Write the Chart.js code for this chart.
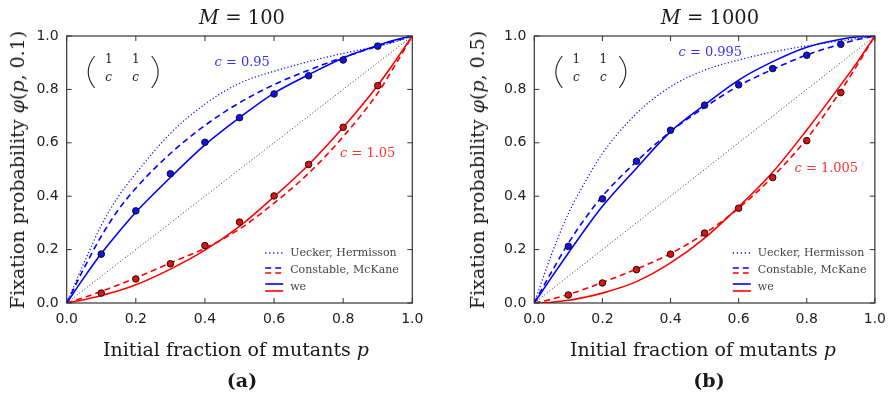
<!DOCTYPE html>
<html>
<head>
<meta charset="utf-8">
<script src="https://cdn.jsdelivr.net/npm/chart.js@4.4.1/dist/chart.umd.min.js"></script>
<style>
  body { margin: 0; background: #fff; }
  #wrap { position: relative; width: 894px; height: 395px; overflow: hidden; }
  canvas { position: absolute; top: 0; }
  .lbl { position: absolute; font-family: "DejaVu Serif", serif; color: #1a1a1a; white-space: nowrap;
         transform: translate(-50%, -50%); }
  .title { font-size: 19.5px; }
  .xt { font-size: 19px; }
  .yt { font-size: 19px; transform: translate(-50%, -50%) rotate(-90deg); }
  .panel { font-size: 19px; font-weight: bold; }
</style>
</head>
<body>
<div id="wrap">
  <canvas id="chartA" width="447" height="395" style="left:0"></canvas>
  <canvas id="chartB" width="447" height="395" style="left:447px"></canvas>

  <div class="lbl title" style="left:242px; top:17px"><i>M</i> = 100</div>
  <div class="lbl title" style="left:710px; top:17px"><i>M</i> = 1000</div>
  <div class="lbl yt" style="left:17px; top:170px">Fixation probability <i>φ</i>(<i>p</i>, 0.1)</div>
  <div class="lbl yt" style="left:477px; top:170px">Fixation probability <i>φ</i>(<i>p</i>, 0.5)</div>
  <div class="lbl xt" style="left:236px; top:349px">Initial fraction of mutants <i>p</i></div>
  <div class="lbl xt" style="left:703px; top:349px">Initial fraction of mutants <i>p</i></div>
  <div class="lbl panel" style="left:242px; top:380px">(a)</div>
  <div class="lbl panel" style="left:709px; top:380px">(b)</div>
</div>

<script>
// x positions of the curve samples and of the simulation points
const pGrid = [0, 0.05, 0.1, 0.15, 0.2, 0.3, 0.4, 0.5, 0.6, 0.7, 0.8, 0.9, 0.95, 1];
const pSim = [0.1, 0.2, 0.3, 0.4, 0.5, 0.6, 0.7, 0.8, 0.9];
const diagX = [0, 1];
const diagY = [0, 1];
const tickValues = [0, 0.2, 0.4, 0.6, 0.8, 1];
const tickLabels = ['0.0', '0.2', '0.4', '0.6', '0.8', '1.0'];
const legendNames = ['Uecker, Hermisson', 'Constable, McKane', 'we'];

// panel (a), M = 100
const aBlueDot   = [0, 0.15, 0.29, 0.40, 0.485, 0.635, 0.745, 0.823, 0.868, 0.904, 0.935, 0.962, 0.978, 1];
const aBlueDash  = [0, 0.13, 0.25, 0.35, 0.43, 0.56, 0.665, 0.75, 0.818, 0.872, 0.92, 0.962, 0.982, 1];
const aBlueSolid = [0, 0.095, 0.185, 0.265, 0.34, 0.47, 0.592, 0.694, 0.786, 0.855, 0.918, 0.965, 0.985, 1];
const aRedDash   = [0, 0.02, 0.044, 0.068, 0.094, 0.15, 0.205, 0.277, 0.374, 0.486, 0.623, 0.786, 0.89, 1];
const aRedSolid  = [0, 0.012, 0.028, 0.046, 0.068, 0.127, 0.198, 0.287, 0.398, 0.518, 0.658, 0.815, 0.905, 1];
const aBluePts   = [0.183, 0.345, 0.484, 0.602, 0.694, 0.783, 0.851, 0.910, 0.962];
const aRedPts    = [0.037, 0.090, 0.147, 0.215, 0.303, 0.401, 0.519, 0.658, 0.814];

// panel (b), M = 1000
const bBlueDot   = [0, 0.18, 0.335, 0.455, 0.56, 0.71, 0.81, 0.872, 0.91, 0.94, 0.963, 0.982, 0.991, 1];
const bBlueDash  = [0, 0.115, 0.224, 0.318, 0.40, 0.53, 0.642, 0.733, 0.813, 0.875, 0.929, 0.97, 0.987, 1];
const bBlueSolid = [0, 0.095, 0.187, 0.277, 0.362, 0.505, 0.642, 0.742, 0.835, 0.904, 0.958, 0.988, 0.997, 1];
const bRedDash   = [0, 0.014, 0.032, 0.053, 0.077, 0.127, 0.185, 0.26, 0.355, 0.473, 0.615, 0.795, 0.895, 1];
const bRedSolid  = [0, 0.003, 0.01, 0.022, 0.037, 0.08, 0.15, 0.243, 0.36, 0.49, 0.648, 0.817, 0.905, 1];
const bBluePts   = [0.212, 0.39, 0.531, 0.647, 0.741, 0.817, 0.878, 0.928, 0.969];
const bRedPts    = [0.03, 0.075, 0.125, 0.183, 0.262, 0.355, 0.47, 0.608, 0.788];

const BLUE = '#0000ff';
const RED = '#ff0000';
const SERIF = '"DejaVu Serif", serif';

function pairs(xs, ys) {
    return xs.map((x, i) => ({ x: x, y: ys[i] }));
}

function curve(ys, color, dash, width) {
    return {
        data: pairs(pGrid, ys),
        borderColor: color,
        borderDash: dash,
        borderWidth: width,
        pointRadius: 0,
        fill: false,
        cubicInterpolationMode: 'monotone'
    };
}

function dots(ys, color) {
    return {
        data: pairs(pSim, ys),
        showLine: false,
        pointRadius: 3.3,
        pointBackgroundColor: color,
        pointBorderColor: '#111',
        pointBorderWidth: 1
    };
}

// text like "c = 0.95" with an italic c, centred on (x, y)
function richText(ctx, parts, x, y, size, color) {
    ctx.fillStyle = color;
    ctx.textBaseline = 'middle';
    ctx.textAlign = 'left';
    let total = 0;
    parts.forEach(p => {
        ctx.font = (p.it ? 'italic ' : '') + size + 'px ' + SERIF;
        total += ctx.measureText(p.t).width;
    });
    let cx = x - total / 2;
    parts.forEach(p => {
        ctx.font = (p.it ? 'italic ' : '') + size + 'px ' + SERIF;
        ctx.fillText(p.t, cx, y);
        cx += ctx.measureText(p.t).width;
    });
}

function legendLine(ctx, x, y, color, dash, width) {
    ctx.strokeStyle = color;
    ctx.setLineDash(dash);
    ctx.lineWidth = width;
    ctx.beginPath();
    ctx.moveTo(x, y);
    ctx.lineTo(x + 18, y);
    ctx.stroke();
}

// frame with inward ticks on all four sides, matrix, c labels and legend
const framePlugin = {
    id: 'frame',
    afterDatasetsDraw(chart, args, opts) {
        const { ctx, chartArea: a, scales: { x, y } } = chart;
        ctx.save();
        ctx.setLineDash([]);
        ctx.strokeStyle = '#333';
        ctx.lineWidth = 1.2;
        ctx.strokeRect(a.left, a.top, a.right - a.left, a.bottom - a.top);
        ctx.lineWidth = 1;
        ctx.beginPath();
        tickValues.forEach(v => {
            const px = x.getPixelForValue(v);
            const py = y.getPixelForValue(v);
            ctx.moveTo(px, a.bottom); ctx.lineTo(px, a.bottom - 5);
            ctx.moveTo(px, a.top); ctx.lineTo(px, a.top + 5);
            ctx.moveTo(a.left, py); ctx.lineTo(a.left + 5, py);
            ctx.moveTo(a.right, py); ctx.lineTo(a.right - 5, py);
        });
        ctx.stroke();

        // payoff matrix
        const mx = a.left, my = a.top;
        ctx.strokeStyle = '#222';
        ctx.lineWidth = 1.1;
        ctx.beginPath();
        ctx.moveTo(mx + 28, my + 20);
        ctx.quadraticCurveTo(mx + 15, my + 36, mx + 28, my + 52);
        ctx.moveTo(mx + 85, my + 20);
        ctx.quadraticCurveTo(mx + 98, my + 36, mx + 85, my + 52);
        ctx.stroke();
        richText(ctx, [{ t: '1' }], mx + 42, my + 24, 12, '#222');
        richText(ctx, [{ t: '1' }], mx + 69, my + 24, 12, '#222');
        richText(ctx, [{ t: 'c', it: true }], mx + 42, my + 42, 12, '#222');
        richText(ctx, [{ t: 'c', it: true }], mx + 69, my + 42, 12, '#222');

        // c labels
        richText(ctx, [{ t: 'c', it: true }, { t: ' = ' + opts.cBlue }],
                 a.left + opts.blueAt[0], a.top + opts.blueAt[1], 13, '#3333ff');
        richText(ctx, [{ t: 'c', it: true }, { t: ' = ' + opts.cRed }],
                 a.left + opts.redAt[0], a.top + opts.redAt[1], 13, '#ff3333');

        // legend
        const lx = a.left + 198.5;
        const ly = a.top + 217;
        legendLine(ctx, lx, ly, BLUE, [1.2, 2.8], 1.4);
        legendLine(ctx, lx, ly + 15, BLUE, [6, 4], 1.6);
        legendLine(ctx, lx, ly + 20, RED, [6, 4], 1.6);
        legendLine(ctx, lx, ly + 31, BLUE, [], 1.6);
        legendLine(ctx, lx, ly + 38, RED, [], 1.6);
        ctx.setLineDash([]);
        ctx.fillStyle = '#444';
        ctx.font = '11px ' + SERIF;
        ctx.textAlign = 'left';
        ctx.textBaseline = 'middle';
        ctx.fillText(legendNames[0], lx + 25, ly);
        ctx.fillText(legendNames[1], lx + 25, ly + 17.5);
        ctx.fillText(legendNames[2], lx + 25, ly + 34.5);
        ctx.restore();
    }
};

function makeChart(id, sets, yWidth, padRight, labels) {
    const tickFont = { family: '"DejaVu Sans", sans-serif', size: 14 };
    return new Chart(document.getElementById(id), {
        type: 'line',
        data: {
            datasets: [
                dots(sets.bluePts, '#1010e8'),
                dots(sets.redPts, '#e01010'),
                curve(sets.blueSolid, BLUE, [], 1.6),
                curve(sets.redSolid, RED, [], 1.6),
                curve(sets.blueDash, BLUE, [6, 4], 1.6),
                curve(sets.redDash, RED, [6, 4], 1.6),
                curve(sets.blueDot, BLUE, [1.2, 2.2], 1.2),
                {
                    data: pairs(diagX, diagY),
                    borderColor: '#333',
                    borderDash: [1, 2.2],
                    borderWidth: 1,
                    pointRadius: 0
                }
            ]
        },
        options: {
            responsive: false,
            animation: false,
            devicePixelRatio: 1,
            layout: { padding: { top: 36, right: padRight, left: 0, bottom: 0 } },
            plugins: {
                legend: { display: false },
                tooltip: { enabled: false },
                frame: labels
            },
            scales: {
                x: {
                    type: 'linear',
                    min: 0,
                    max: 1,
                    grid: { display: false, drawTicks: false },
                    border: { display: false },
                    afterBuildTicks: s => { s.ticks = tickValues.map(v => ({ value: v })); },
                    ticks: {
                        padding: 8,
                        color: '#222',
                        font: tickFont,
                        maxRotation: 0,
                        autoSkip: false,
                        callback: (v, i) => tickLabels[i]
                    },
                    afterFit: s => { s.height = 92; }
                },
                y: {
                    type: 'linear',
                    min: 0,
                    max: 1,
                    grid: { display: false, drawTicks: false },
                    border: { display: false },
                    afterBuildTicks: s => { s.ticks = tickValues.map(v => ({ value: v })); },
                    ticks: {
                        padding: 8,
                        color: '#222',
                        font: tickFont,
                        autoSkip: false,
                        callback: (v, i) => tickLabels[i]
                    },
                    afterFit: s => { s.width = yWidth; }
                }
            }
        },
        plugins: [framePlugin]
    });
}

makeChart('chartA', {
    blueDot: aBlueDot, blueDash: aBlueDash, blueSolid: aBlueSolid,
    redDash: aRedDash, redSolid: aRedSolid, bluePts: aBluePts, redPts: aRedPts
}, 66.7, 34.7, { cBlue: '0.95', cRed: '1.05', blueAt: [175.5, 27], redAt: [301, 118] });

makeChart('chartB', {
    blueDot: bBlueDot, blueDash: bBlueDash, blueSolid: bBlueSolid,
    redDash: bRedDash, redSolid: bRedSolid, bluePts: bBluePts, redPts: bRedPts
}, 87.3, 14.7, { cBlue: '0.995', cRed: '1.005', blueAt: [176, 17], redAt: [292, 133] });
</script>
</body>
</html>
